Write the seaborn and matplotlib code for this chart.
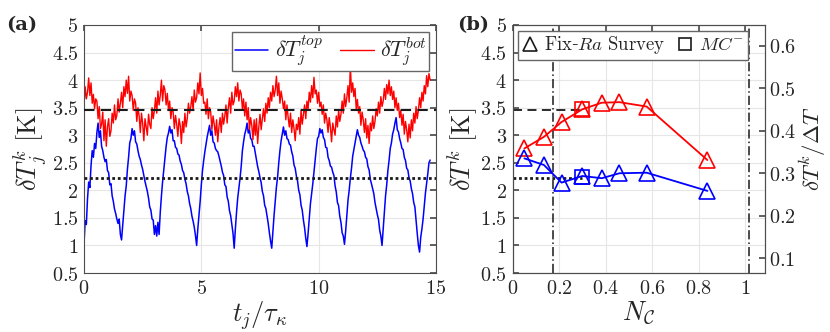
import numpy as np
import pandas as pd
import matplotlib
matplotlib.use("Agg")
import matplotlib.pyplot as plt
import seaborn as sns
from matplotlib.ticker import FormatStrFormatter
from matplotlib.lines import Line2D

# ---- panel (a): time series, sampled every 0.05 tau_kappa ----
t_step = 0.05
dT_top = [
    1.02, 1.45, 1.38, 1.85, 2.15, 2.05, 2.45, 2.72, 2.6, 2.85,
    2.76, 3.05, 3.22, 2.96, 3.08, 2.8, 2.72, 2.6, 2.52, 2.56,
    2.36, 2.32, 2.1, 2.12, 1.9, 1.8, 1.66, 1.58, 1.48, 1.4,
    1.48, 1.2, 1.1, 1.36, 1.6, 1.9, 2.08, 2.38, 2.6, 2.86,
    2.94, 3.12, 3.0, 3.08, 2.88, 2.84, 2.72, 2.62, 2.56, 2.46,
    2.38, 2.27, 2.16, 2.07, 1.98, 1.86, 1.7, 1.64, 1.48, 1.46,
    1.2, 1.36, 1.17, 1.42, 1.2, 1.6, 1.9, 2.16, 2.38, 2.62,
    2.8, 2.96, 3.04, 3.16, 3.04, 3.1, 2.9, 2.9, 2.78, 2.76,
    2.66, 2.64, 2.53, 2.47, 2.36, 2.32, 2.2, 2.12, 1.98, 1.9,
    1.76, 1.67, 1.53, 1.44, 1.33, 1.18, 1.0, 1.3, 1.55, 1.8,
    2.1, 2.36, 2.54, 2.7, 2.84, 2.97, 3.08, 3.18, 3.0, 3.08,
    2.88, 2.86, 2.76, 2.72, 2.7, 2.62, 2.53, 2.44, 2.33, 2.27,
    2.1, 2.07, 1.88, 1.8, 1.63, 1.54, 1.38, 1.22, 0.95, 1.3,
    1.6, 1.86, 2.04, 2.22, 2.44, 2.72, 2.88, 3.02, 3.1, 3.22,
    3.04, 3.1, 2.94, 2.92, 2.8, 2.8, 2.68, 2.57, 2.43, 2.34,
    2.23, 2.14, 1.98, 1.9, 1.73, 1.67, 1.53, 1.4, 1.23, 1.08,
    0.95, 1.25, 1.55, 1.8, 2.06, 2.24, 2.5, 2.72, 2.9, 3.02,
    3.15, 3.0, 3.08, 2.94, 2.92, 2.84, 2.82, 2.7, 2.62, 2.46,
    2.4, 2.26, 2.17, 2.0, 1.92, 1.73, 1.64, 1.46, 1.32, 1.13,
    0.98, 1.22, 1.5, 1.76, 1.94, 2.12, 2.34, 2.57, 2.76, 2.94,
    2.98, 3.12, 3.04, 3.1, 2.96, 2.92, 2.78, 2.77, 2.6, 2.54,
    2.44, 2.42, 2.33, 2.27, 2.08, 1.97, 1.78, 1.72, 1.53, 1.42,
    1.23, 1.17, 1.02, 1.26, 1.54, 1.82, 2.0, 2.22, 2.4, 2.62,
    2.74, 2.87, 2.98, 3.1, 3.0, 2.96, 2.86, 2.8, 2.73, 2.7,
    2.6, 2.57, 2.43, 2.37, 2.2, 2.12, 2.03, 1.94, 1.78, 1.67,
    1.56, 1.47, 1.28, 1.17, 1.0, 1.3, 1.62, 1.9, 2.1, 2.36,
    2.54, 2.76, 2.86, 3.02, 3.1, 3.22, 3.32, 3.1, 3.06, 2.94,
    2.86, 2.76, 2.74, 2.6, 2.54, 2.4, 2.37, 2.23, 2.17, 2.03,
    1.94, 1.78, 1.7, 1.45, 1.22, 1.0, 0.88, 1.15, 1.3, 1.48,
    1.72, 1.95, 2.12, 2.3, 2.5, 2.55,
]
dT_bot = [
    3.55, 3.88, 3.66, 3.78, 4.04, 3.72, 3.95, 3.58, 3.74, 3.48,
    3.66, 3.62, 3.3, 3.52, 3.12, 3.2, 3.42, 2.9, 3.28, 2.8,
    3.15, 3.3, 2.98, 3.08, 3.4, 3.22, 3.55, 3.28, 3.36, 3.66,
    3.42, 3.58, 3.78, 3.5, 3.88, 3.7, 4.0, 3.76, 4.07, 3.62,
    3.8, 3.72, 3.45, 3.66, 3.58, 3.25, 3.5, 3.35, 3.05, 3.4,
    3.22, 2.9, 3.3, 3.15, 3.0, 3.38, 3.2, 3.12, 3.5, 3.3,
    3.45, 3.68, 3.4, 3.8, 3.55, 3.72, 4.0, 3.62, 3.9, 3.82,
    3.55, 3.76, 3.45, 3.62, 3.3, 3.5, 3.42, 3.12, 3.36, 3.2,
    2.98, 3.3, 3.18, 2.85, 3.25, 3.05, 3.4, 3.15, 3.3, 3.58,
    3.4, 3.52, 3.7, 3.45, 3.82, 3.6, 3.68, 3.95, 3.75, 4.13,
    3.72, 3.85, 3.58, 3.6, 3.38, 3.66, 3.3, 3.5, 3.42, 3.1,
    3.35, 3.2, 3.0, 3.28, 2.88, 3.15, 3.32, 3.05, 3.4, 3.2,
    3.35, 3.55, 3.22, 3.5, 3.68, 3.4, 3.78, 3.55, 3.62, 3.88,
    3.7, 3.95, 3.62, 3.82, 3.75, 3.48, 3.66, 3.35, 3.6, 3.28,
    3.5, 3.1, 3.32, 3.18, 2.92, 3.28, 3.0, 3.3, 2.85, 3.15,
    3.38, 3.1, 3.3, 3.48, 3.25, 3.58, 3.4, 3.68, 3.5, 3.78,
    3.62, 3.9, 3.7, 3.82, 4.07, 3.72, 3.95, 3.58, 3.8, 3.66,
    3.48, 3.62, 3.28, 3.55, 3.32, 3.15, 3.4, 3.05, 3.28, 3.12,
    2.9, 3.2, 3.1, 3.32, 3.02, 3.45, 3.2, 3.38, 3.55, 3.3,
    3.62, 3.48, 3.78, 3.6, 3.9, 3.68, 4.05, 3.75, 3.82, 3.58,
    3.78, 3.52, 3.6, 3.38, 3.55, 3.22, 3.4, 3.28, 3.05, 3.32,
    3.15, 2.88, 3.22, 3.1, 3.0, 3.35, 3.15, 3.45, 3.25, 3.38,
    3.62, 3.4, 3.75, 3.52, 3.68, 3.9, 3.6, 4.27, 3.78, 3.95,
    3.7, 3.85, 3.48, 3.65, 3.4, 3.52, 3.18, 3.42, 3.28, 3.05,
    3.3, 2.95, 3.18, 2.85, 3.22, 3.08, 3.35, 3.12, 3.25, 3.48,
    3.35, 3.6, 3.4, 3.7, 3.52, 3.62, 3.85, 3.65, 3.92, 3.75,
    4.0, 3.72, 3.88, 3.65, 3.8, 3.5, 3.68, 3.45, 3.58, 3.32,
    3.45, 3.18, 3.38, 3.02, 3.25, 3.1, 2.88, 3.2, 2.95, 3.28,
    3.08, 3.4, 3.22, 3.52, 3.3, 3.45, 3.68, 3.5, 3.78, 3.62,
    3.9, 3.75, 4.08, 3.88, 4.12, 4.0,
]
mean_bot = 3.45
mean_top = 2.23

# ---- panel (b): survey ----
n_c = [0.051, 0.135, 0.211, 0.30, 0.384, 0.46, 0.577, 0.838]
survey_bot = [2.76, 2.97, 3.24, 3.47, 3.59, 3.60, 3.52, 2.55]
survey_top = [2.58, 2.46, 2.14, 2.26, 2.22, 2.31, 2.32, 1.99]
mc_nc = [0.30]
mc_bot = [3.47]
mc_top = [2.25]
regime_bounds = [0.173, 1.017]
delta_T = 7.7

t = np.arange(len(dT_top)) * t_step
ts = pd.DataFrame({"t": t, "top": dT_top, "bot": dT_bot})
survey = pd.DataFrame({"nc": n_c, "top": survey_top, "bot": survey_bot})
mc = pd.DataFrame({"nc": mc_nc, "top": mc_top, "bot": mc_bot})

sns.set_theme(style="whitegrid")
plt.rcParams["font.family"] = ["DejaVu Serif"]
plt.rcParams["mathtext.fontset"] = "cm"

fig = plt.figure(figsize=(8.3, 3.32), dpi=100)
ax1 = fig.add_axes([0.1012, 0.1777, 0.4241, 0.747])
ax2 = fig.add_axes([0.6175, 0.1777, 0.3042, 0.747])

blue = (0, 0, 1)
red = (1, 0, 0)
lab_fs = 19
tick_fs = 14.5

# (a)
sns.lineplot(data=ts, x="t", y="top", color=blue, lw=1.1, ax=ax1, label=r"$\delta T_j^{top}$")
sns.lineplot(data=ts, x="t", y="bot", color=red, lw=1.0, ax=ax1, label=r"$\delta T_j^{bot}$")
ax1.axhline(mean_bot, color="k", ls=(0, (5, 3)), lw=1.5, zorder=5)
ax1.axhline(mean_top, color="k", ls=(0, (1, 1)), lw=2, zorder=5)
ax1.set_xlim(0, 15)
ax1.set_ylim(0.5, 5)
ax1.set_xticks([0, 5, 10, 15])
ax1.set_yticks(np.arange(0.5, 5.01, 0.5))
ax1.set_xlabel(r"$t_j/\tau_\kappa$", fontsize=lab_fs, labelpad=1)
ax1.set_ylabel(r"$\delta T_j^k\ [\mathrm{K}]$", fontsize=lab_fs, labelpad=1)
ax1.legend(loc="upper right", ncol=2, fontsize=16, handlelength=1.5, handletextpad=0.3,
           columnspacing=0.8, borderpad=0.1, borderaxespad=0.3, fancybox=False,
           framealpha=1, edgecolor="0.4")
ax1.text(-0.22, 1.0, "(a)", transform=ax1.transAxes, fontsize=14, fontweight="bold",
         family="DejaVu Serif", ha="left", va="center")

# (b)
for col, c in [("bot", red), ("top", blue)]:
    sns.lineplot(data=survey, x="nc", y=col, color=c, lw=1.3, marker="^", markersize=11,
                 markerfacecolor="none", markeredgecolor=c, markeredgewidth=1.2, ax=ax2)
    sns.lineplot(data=mc, x="nc", y=col, color=c, lw=0, marker="s", markersize=10,
                 markerfacecolor="none", markeredgecolor=c, markeredgewidth=1.2, ax=ax2)
ax2.plot([0, mc_nc[0]], [mean_bot, mean_bot], color="k", ls=(0, (5, 3)), lw=1.3, zorder=1)
ax2.plot([0, mc_nc[0]], [mean_top, mean_top], color="k", ls=(0, (1, 1)), lw=2, zorder=1)
for xb in regime_bounds:
    ax2.axvline(xb, color="k", ls=(0, (6, 2, 1, 2)), lw=1.1, zorder=1)
ax2.set_xlim(0, 1.086)
ax2.set_ylim(0.5, 5)
ax2.set_xticks([0, 0.2, 0.4, 0.6, 0.8, 1])
ax2.set_yticks(np.arange(0.5, 5.01, 0.5))
ax2.set_xlabel(r"$N_\mathcal{C}$", fontsize=lab_fs, labelpad=1)
ax2.set_ylabel(r"$\delta T^k\ [\mathrm{K}]$", fontsize=lab_fs, labelpad=1)
handles = [Line2D([], [], ls="none", marker="^", ms=10, mfc="none", mec="k", mew=1.2),
           Line2D([], [], ls="none", marker="s", ms=9, mfc="none", mec="k", mew=1.2)]
ax2.legend(handles, [r"$\mathrm{Fix}$-$Ra\ \mathrm{Survey}$", r"$MC^{-}$"], loc="upper left",
           ncol=2, fontsize=13.5, handlelength=0.9, handletextpad=0.3, columnspacing=0.6,
           borderpad=0.2, borderaxespad=0.3, fancybox=False, framealpha=1, edgecolor="0.4")
ax2.text(-0.22, 1.0, "(b)", transform=ax2.transAxes, fontsize=14, fontweight="bold",
         family="DejaVu Serif", ha="left", va="center")

ax3 = ax2.twinx()
ax3.set_ylim(0.5 / delta_T, 5 / delta_T)
ax3.set_yticks([0.1, 0.2, 0.3, 0.4, 0.5, 0.6])
ax3.grid(False)
ax3.set_ylabel(r"$\delta T^k/\Delta T$", fontsize=16.5, labelpad=1)

for ax in (ax1, ax2, ax3):
    ax.tick_params(direction="in", labelsize=tick_fs, length=4, color="0.3", pad=4)
    for s in ax.spines.values():
        s.set_color("0.3")
        s.set_linewidth(0.8)
ax3.tick_params(pad=3)
for ax in (ax1, ax2):
    ax.grid(True, color="0.9", lw=0.8)
    ax.xaxis.set_major_formatter(FormatStrFormatter("$%g$"))
    ax.yaxis.set_major_formatter(FormatStrFormatter("$%g$"))
ax3.yaxis.set_major_formatter(FormatStrFormatter("$%g$"))
ax1.tick_params(right=True, top=True)
ax2.tick_params(top=True)

fig.savefig("out.png", dpi=100)
